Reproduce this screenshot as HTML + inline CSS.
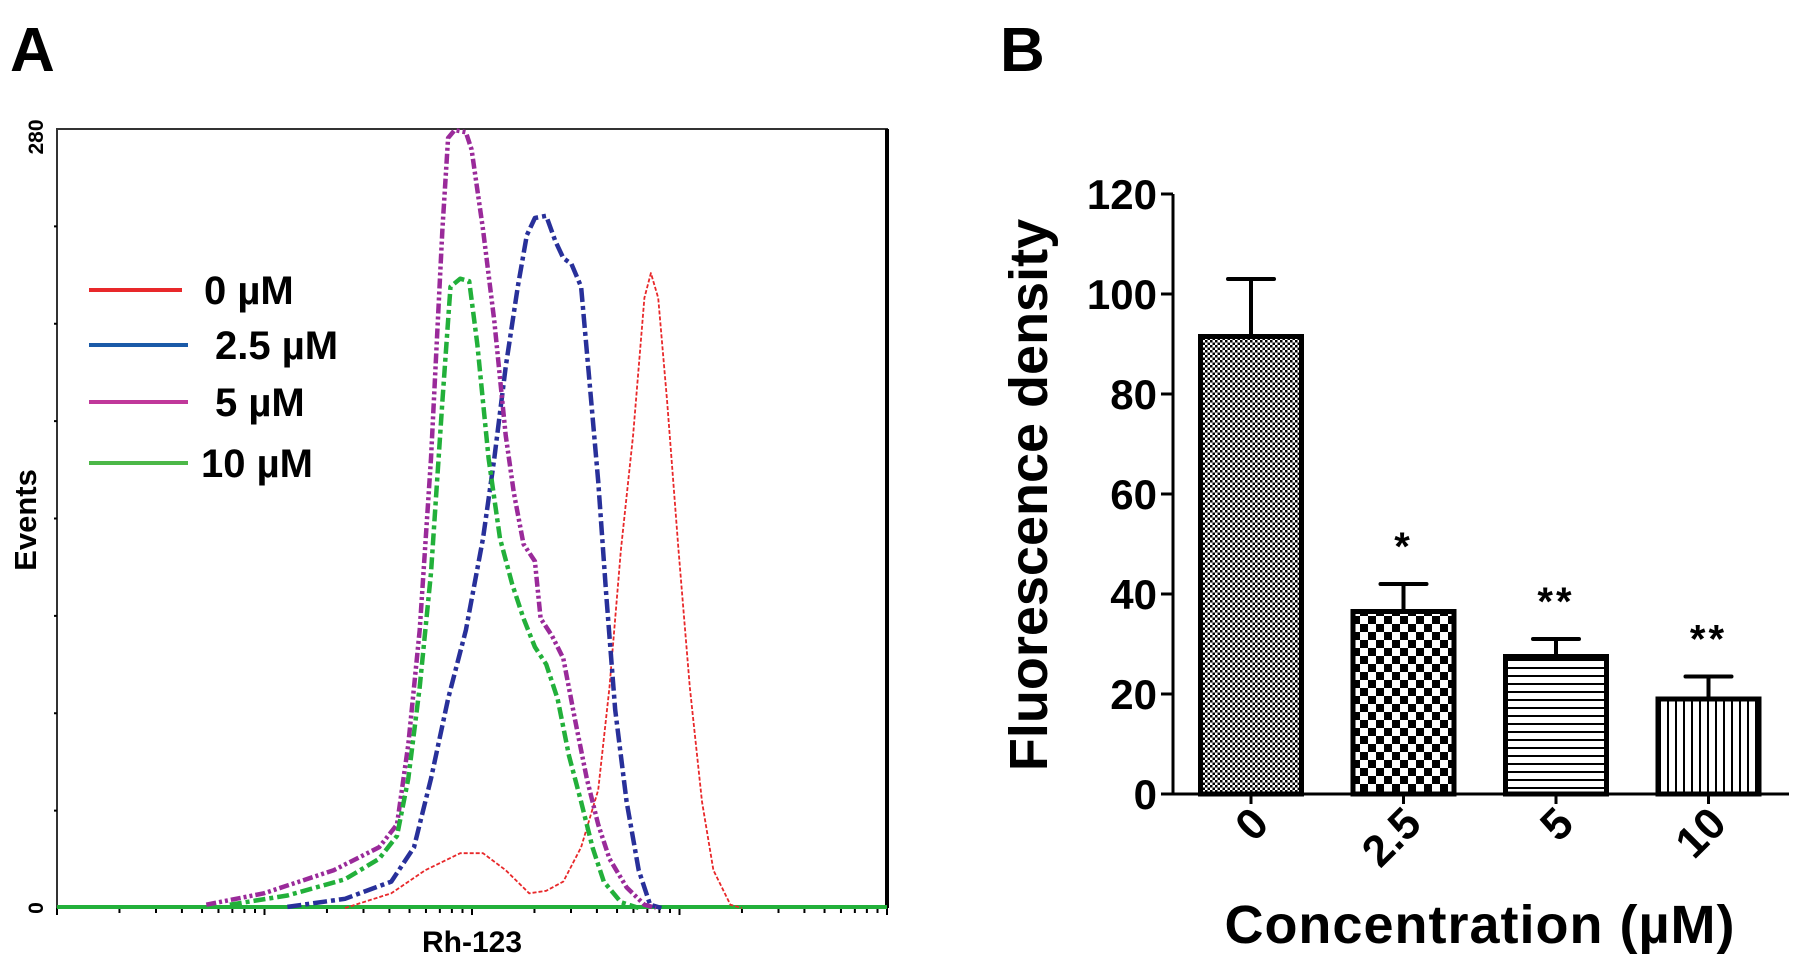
<!DOCTYPE html>
<html><head><meta charset="utf-8"><style>
html,body{margin:0;padding:0;background:#fff}
svg{display:block;font-family:"Liberation Sans",sans-serif;font-weight:bold}
</style></head><body>
<svg id="c" width="1795" height="963" viewBox="0 0 1795 963">
<defs>
<pattern id="p0" width="5" height="5" patternUnits="userSpaceOnUse"><rect width="5" height="5" fill="#fff"/><rect width="2.5" height="2.5" fill="#000"/><rect x="2.5" y="2.5" width="2.5" height="2.5" fill="#000"/></pattern>
<pattern id="p1" width="16" height="16" patternUnits="userSpaceOnUse"><rect width="16" height="16" fill="#fff"/><rect width="8" height="8" fill="#000"/><rect x="8" y="8" width="8" height="8" fill="#000"/></pattern>
<pattern id="p2" width="8" height="8" patternUnits="userSpaceOnUse"><rect width="8" height="8" fill="#fff"/><rect y="3" width="8" height="2" fill="#000"/></pattern>
<pattern id="p3" width="8" height="8" patternUnits="userSpaceOnUse"><rect width="8" height="8" fill="#fff"/><rect x="3" width="2" height="8" fill="#000"/></pattern>
</defs>
<text x="10" y="71" font-size="62">A</text>
<text x="1000" y="71" font-size="62">B</text>
<g id="gA"></g>
<g id="gB"></g>
</svg>
<script>
// ---------- Panel A data (x: channel 0-1023 on 4-decade log display, y: events) ----------
const magX=[184,255,341,397,419,433,447,461,475,482,490,504,511,525,539,553,563,575,589,596,610,624,639,653,667,681,702,724,738];
const magY=[1.2,5.3,13.6,21.8,30,58.8,99.9,161.6,243.9,276.8,279.6,278.8,272.6,243.9,211,169.9,149.3,130.8,124.6,104.1,97.9,89.7,67,46.5,30,17.7,7.4,1.2,0];
const grnX=[213,284,355,397,419,433,447,461,475,485,497,508,518,532,546,561,575,589,603,617,631,646,660,674,695,717];
const grnY=[1.2,4.5,10.3,17.7,25.9,46.5,79.4,120.5,182.2,223.3,226.2,225.3,202.7,161.6,132.8,116.4,104.1,93.8,87.6,75.2,54.7,38.2,21.8,9.5,2.1,0];
const bluX=[284,355,412,440,461,482,504,525,539,553,568,579,589,603,614,624,634,646,656,667,677,688,702,717,731,745];
const bluY=[0.4,3.3,9.5,21.8,46.5,75.2,99.9,132.8,161.6,194.5,223.3,241.8,248,248.8,239.8,233.6,231.5,223.3,190.4,153.4,112.3,71.2,38.2,13.6,1.2,0];
const redX=[355,412,454,497,525,553,582,603,624,646,667,681,695,710,724,732,741,752,766,780,795,809,830,844];
const redY=[0,5.3,13.6,19.7,19.7,13.6,5.3,6.2,9.5,21.8,42.4,79.4,128.7,169.9,219.3,228.2,219.3,182.2,128.7,79.4,38.2,13.6,1.2,0];
const legendLabels=["0 µM","2.5 µM","5 µM","10 µM"];
const yTicksA=["0","280"];
// ---------- Panel B data ----------
const cats=["0","2.5","5","10"];
const means=[91.5,36.5,27.5,19];
const errs=[11.5,5.5,3.5,4.5];
const stars=["","*","**","**"];
const yTicksB=[0,20,40,60,80,100,120];

const NS="http://www.w3.org/2000/svg";
function mk(tag,attrs,parent){const e=document.createElementNS(NS,tag);for(const k in attrs)e.setAttribute(k,attrs[k]);parent.appendChild(e);return e;}

// Panel A
const gA=document.getElementById('gA');
const AL=57,AR=887,AT=129,AB=908;
const ax=c=>AL+c/1023*(AR-AL);
const ay=v=>AB-v/280*(AB-AT);
let fr=mk('rect',{x:AL,y:AT,width:AR-AL,height:AB-AT,fill:'none',stroke:'#333','stroke-width':2},gA);

mk('line',{x1:AR,y1:AT,x2:AR,y2:AB,stroke:'#000','stroke-width':4},gA);
for(let d=0;d<4;d++){for(let m=1;m<=10;m++){const c=(d+Math.log10(m))*1023/4;const x=ax(c);
const t=mk('line',{x1:x,y1:AB,x2:x,y2:AB+(m===1||m===10?7:5),stroke:'#000','stroke-width':2},gA);
}}
for(let i=1;i<8;i++){const y=AT+i*(AB-AT)/8;const t=mk('line',{x1:AL-3,y1:y,x2:AL,y2:y,stroke:'#000','stroke-width':2},gA);
}
[[yTicksA[0],0],[yTicksA[1],280]].forEach(([lab,v])=>{const y=ay(v)+(v?8:0);
const t=mk('text',{x:0,y:0,'font-size':21,'text-anchor':'middle',transform:`translate(43,${y}) rotate(-90)`},gA);t.textContent=lab;
});
let t1=mk('text',{x:0,y:0,'font-size':31,'text-anchor':'middle',transform:'translate(36,520) rotate(-90)'},gA);t1.textContent='Events';

let t2=mk('text',{x:472,y:952,'font-size':30,'text-anchor':'middle'},gA);t2.textContent='Rh-123';

let bl=mk('line',{x1:AL,y1:AB-1,x2:AR,y2:AB-1,stroke:'#22b03a','stroke-width':4},gA);

const series=[
 {name:'series-0uM',xs:redX,ys:redY,col:'#e8282a',w:1.8,dash:'4 2'},
 {name:'series-2-5uM',xs:bluX,ys:bluY,col:'#28309a',w:4.5,dash:'14 4 4 4'},
 {name:'series-5uM',xs:magX,ys:magY,col:'#9a2a9a',w:4.5,dash:'10 3 3 3 3 3'},
 {name:'series-10uM',xs:grnX,ys:grnY,col:'#22b03a',w:4.5,dash:'12 4 4 4'}];
series.forEach(s=>{let d='';s.xs.forEach((c,i)=>{d+=(i?'L':'M')+ax(c).toFixed(1)+','+ay(s.ys[i]).toFixed(1);});
const p=mk('path',{d:d,fill:'none',stroke:s.col,'stroke-width':s.w,'stroke-dasharray':s.dash,'stroke-linejoin':'round'},gA);
});
const legCols=['#e8282a','#1a5aa8','#c0389a','#4cb848'];
const legY=[290,345,402,463];
legendLabels.forEach((lab,i)=>{const l=mk('line',{x1:89,y1:legY[i],x2:(i?188:182),y2:legY[i],stroke:legCols[i],'stroke-width':4},gA);

const t=mk('text',{x:(i===0?204:i===3?201:215),y:legY[i]+14,'font-size':40},gA);t.textContent=lab;
});

// Panel B
const gB=document.getElementById('gB');
const BL=1173,BR=1789,BT=194,BB=794;
const by=v=>BB-v/120*(BB-BT);
const bx=i=>1251+i*152.5;
const bw=101;
let yax=mk('line',{x1:BL,y1:BT,x2:BL,y2:BB,stroke:'#000','stroke-width':3},gB);

let xax=mk('line',{x1:BL,y1:BB,x2:BR,y2:BB,stroke:'#000','stroke-width':3},gB);

yTicksB.forEach(v=>{const y=by(v);const t=mk('line',{x1:BL-12,y1:y,x2:BL,y2:y,stroke:'#000','stroke-width':3},gB);

const l=mk('text',{x:BL-16,y:y+15,'font-size':42,'text-anchor':'end'},gB);l.textContent=v;
});
let yt=mk('text',{x:0,y:0,'font-size':54,'text-anchor':'middle',transform:'translate(1047,495) rotate(-90)'},gB);yt.textContent='Fluorescence density';

let xt=mk('text',{x:1480,y:943,'font-size':54,'text-anchor':'middle','letter-spacing':1},gB);xt.textContent='Concentration (µM)';

cats.forEach((c,i)=>{const cx=bx(i);
const e=mk('path',{d:`M${cx},${by(means[i])}V${by(means[i]+errs[i])}M${cx-23},${by(means[i]+errs[i])}H${cx+23}`,stroke:'#000','stroke-width':4,fill:'none','stroke-linecap':'round'},gB);

const r=mk('rect',{x:cx-bw/2,y:by(means[i]),width:bw,height:BB-by(means[i]),fill:`url(#p${i})`,stroke:'#000','stroke-width':5},gB);

const tk=mk('line',{x1:cx,y1:BB,x2:cx,y2:BB+10,stroke:'#000','stroke-width':3},gB);

const lb=mk('text',{x:0,y:0,'font-size':44,'text-anchor':'end',transform:`translate(${cx+20},${BB+32}) rotate(-45)`},gB);lb.textContent=c;

if(stars[i]){const s=mk('text',{x:cx,y:by(means[i]+errs[i])-24,'font-size':40,'text-anchor':'middle','letter-spacing':3},gB);s.textContent=stars[i];
}
});
</script>
</body></html>
